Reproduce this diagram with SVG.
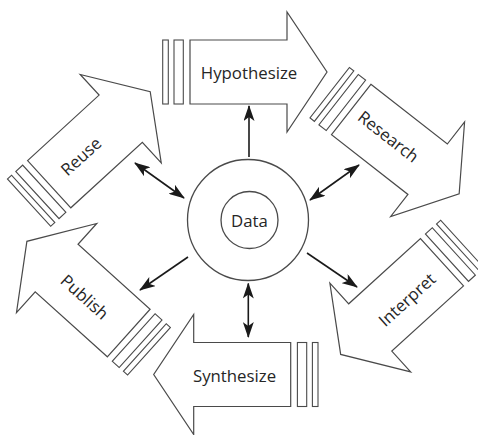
<svg xmlns="http://www.w3.org/2000/svg" width="478" height="435" viewBox="0 0 478 435">
  <style>
    .shape { fill: #ffffff; stroke: #4a4a4a; stroke-width: 1.2; stroke-linejoin: miter; }
    .bar { fill: #ffffff; stroke: #4a4a4a; stroke-width: 1.1; }
    .ring { fill: none; stroke: #4a4a4a; stroke-width: 1.3; }
    .label { font-family: "Open Sans", "DejaVu Sans", sans-serif; font-size: 16.8px; fill: #262626; text-anchor: middle; dominant-baseline: central; }
    .link { stroke: #1a1a1a; stroke-width: 1.6; fill: none; }
  </style>
  <defs>
    <!-- block arrow: tail at x=0, tip at x=137, centred on y=0 -->
    <path id="blockArrow" d="M0,-32 H97 V-60 L137,0 L97,60 V32 H0 Z"/>
    <g id="tailBars">
      <rect x="-16" y="-32" width="9.3" height="64"/>
      <rect x="-27.3" y="-32" width="5.6" height="64"/>
    </g>
    <marker id="head" viewBox="0 0 16 11" refX="15" refY="5.5" markerWidth="16" markerHeight="11" markerUnits="userSpaceOnUse" orient="auto-start-reverse">
      <path d="M0,0 L16,5.5 L0,11 L4,5.5 Z" fill="#1a1a1a"/>
    </marker>
  </defs>

  <g id="hypothesize" transform="translate(190,72)">
    <use href="#blockArrow" class="shape"/>
    <use href="#tailBars" class="bar"/>
  </g>
  <text class="label" x="249" y="72">Hypothesize</text>

  <g id="research" transform="translate(351.2,109.5) rotate(38)">
    <use href="#blockArrow" class="shape"/>
    <use href="#tailBars" class="bar"/>
    <text class="label" x="46" y="-2">Research</text>
  </g>

  <g id="interpret" transform="translate(442,262.2) rotate(137.7)">
    <use href="#blockArrow" class="shape"/>
    <use href="#tailBars" class="bar"/>
  </g>
  <text class="label" x="406.7" y="299.3" transform="rotate(-42.3 406.7 299.3)">Interpret</text>

  <g id="synthesize" transform="translate(290.7,374.5) rotate(180)">
    <use href="#blockArrow" class="shape"/>
    <use href="#tailBars" class="bar"/>
  </g>
  <text class="label" x="234.5" y="375">Synthesize</text>

  <g id="publish" transform="translate(128.7,333) rotate(222)">
    <use href="#blockArrow" class="shape"/>
    <use href="#tailBars" class="bar"/>
  </g>
  <text class="label" x="85" y="296.7" transform="rotate(42 85 296.7)">Publish</text>

  <g id="reuse" transform="translate(49.2,184.2) rotate(-42.5)">
    <use href="#blockArrow" class="shape"/>
    <use href="#tailBars" class="bar"/>
  </g>
  <text class="label" x="80.7" y="156" transform="rotate(-42.5 80.7 156)">Reuse</text>

  <g id="data">
    <circle class="ring" cx="248" cy="220" r="60.5"/>
    <circle class="ring" cx="249.5" cy="220" r="28.5"/>
    <text class="label" x="249.5" y="220">Data</text>
  </g>

  <g id="connectors">
    <line class="link" x1="249" y1="157" x2="249" y2="106" marker-end="url(#head)"/>
    <line class="link" x1="310" y1="200" x2="359" y2="165" marker-start="url(#head)" marker-end="url(#head)"/>
    <line class="link" x1="307" y1="253" x2="357" y2="287" marker-end="url(#head)"/>
    <line class="link" x1="248.3" y1="283.5" x2="248.3" y2="337" marker-start="url(#head)" marker-end="url(#head)"/>
    <line class="link" x1="188" y1="257" x2="140" y2="290" marker-end="url(#head)"/>
    <line class="link" x1="184" y1="198" x2="135" y2="163" marker-start="url(#head)" marker-end="url(#head)"/>
  </g>
</svg>
